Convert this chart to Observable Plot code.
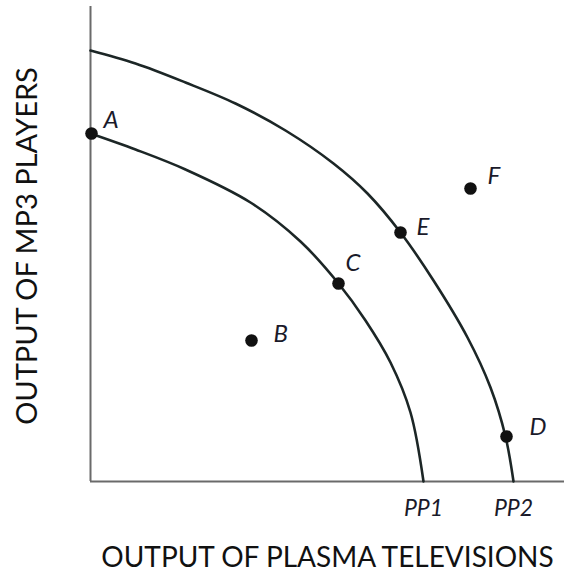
<!DOCTYPE html>
<html>
<head>
<meta charset="utf-8">
<script src="https://cdn.jsdelivr.net/npm/d3@7"></script>
<script src="https://cdn.jsdelivr.net/npm/@observablehq/plot@0.6"></script>
<style>
  html, body { margin: 0; padding: 0; background: #fff; }
  #chart svg { display: block; }
</style>
</head>
<body>
<div id="chart"></div>
<script>
// Outer frontier PP2 (output of plasma TVs, output of MP3 players)
const pp2X = [0, 45, 95, 145, 195, 243, 277, 310, 343, 377, 400, 415, 423];
const pp2Y = [431, 418, 399, 378, 351, 318, 288, 249, 201, 144, 94, 45, 0];
// Inner frontier PP1
const pp1X = [0, 45, 95, 160, 210, 248, 275, 300, 320, 333];
const pp1Y = [348, 332, 312, 279, 240, 198, 161, 119, 69, 0];
// Labelled points
const pointNames = ["A", "B", "C", "D", "E", "F"];
const pointX = [1, 161, 248, 416, 310, 380];
const pointY = [348, 141, 198, 45, 249, 293];
// Frontier end labels
const frontierNames = ["PP1", "PP2"];
const frontierEndX = [333, 423];

const xLabel = "OUTPUT OF PLASMA TELEVISIONS";
const yLabel = "OUTPUT OF MP3 PLAYERS";

const pp1 = pp1X.map((x, i) => ({x, y: pp1Y[i]}));
const pp2 = pp2X.map((x, i) => ({x, y: pp2Y[i]}));
const pts = pointNames.map((name, i) => ({name, x: pointX[i], y: pointY[i]}));
const ends = frontierNames.map((name, i) => ({name, x: frontierEndX[i], y: 0}));

const labelOffsets = {A: [12, -13], B: [22, -6], C: [7, -20], D: [23, -9], E: [16, -5], F: [17, -12]};

const font = "Lato, 'Open Sans', sans-serif";
const curveColor = "#1c2626";
const axisColor = "#6a6a6a";

const chart = Plot.plot({
  width: 564,
  height: 583,
  marginLeft: 90,
  marginRight: 0,
  marginTop: 6,
  marginBottom: 102,
  x: {domain: [0, 474], axis: null},
  y: {domain: [0, 475], axis: null},
  style: {fontFamily: font, background: "#fff"},
  marks: [
    Plot.ruleX([0], {stroke: axisColor, strokeWidth: 2}),
    Plot.ruleY([0], {stroke: axisColor, strokeWidth: 2}),
    Plot.line(pp1, {x: "x", y: "y", curve: "catmull-rom", stroke: curveColor, strokeWidth: 2.6}),
    Plot.line(pp2, {x: "x", y: "y", curve: "catmull-rom", stroke: curveColor, strokeWidth: 2.6}),
    Plot.dot(pts, {x: "x", y: "y", r: 6.3, fill: "#111", stroke: "none"}),
    ...pts.map(p => Plot.text([p], {
      x: "x", y: "y", text: "name",
      dx: labelOffsets[p.name][0], dy: labelOffsets[p.name][1],
      textAnchor: "start", fontSize: 24, fontStyle: "italic", fill: "#1a1a2a"
    })),
    Plot.text(ends, {x: "x", y: "y", text: "name", dy: 27, fontSize: 23, fontStyle: "italic", fill: "#1a1a2a"}),
    Plot.text([xLabel], {frameAnchor: "bottom", dy: 85, fontSize: 28, fill: "#111", text: d => d}),
    Plot.text([yLabel], {frameAnchor: "left", dx: -63, dy: 2, rotate: -90, textAnchor: "middle", fontSize: 29, fill: "#111", text: d => d})
  ]
});
document.getElementById("chart").appendChild(chart);
</script>
</body>
</html>
